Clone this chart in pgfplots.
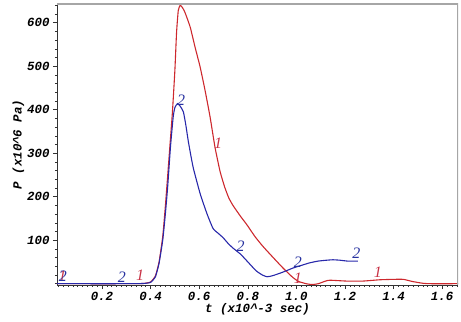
\documentclass[border=0pt]{standalone}
\usepackage{pgfplots}
\pgfplotsset{compat=1.18}
\usepackage{fontspec}
\setmainfont{Liberation Sans}
\newfontfamily\tickfont{Liberation Mono}[BoldItalicFont={* Bold Italic}]
\newfontfamily\labfont{Liberation Serif}
\definecolor{cred}{RGB}{205,40,45}
\definecolor{cblue}{RGB}{40,40,170}
\definecolor{lred}{RGB}{200,50,70}
\definecolor{lblue}{RGB}{40,50,160}
\begin{document}
\begin{tikzpicture}
\begin{axis}[
  scale only axis, width=401bp, height=281bp,
  xmin=0.015, xmax=1.665, ymin=-3, ymax=643,
  axis x line*=bottom, axis y line*=left,
  axis line style={black!80, line width=0.6pt, -},
  xtick={0.2,0.4,...,1.6},
  ytick={100,200,...,600},
  minor xtick={0.02,0.04,...,1.66},
  minor ytick={0,20,...,640},
  tick align=outside,
  major tick length=4bp, minor tick length=2bp,
  tick style={black!80, line width=0.5pt},
  /pgf/number format/assume math mode=true,
  xticklabel style={/pgf/number format/fixed, /pgf/number format/precision=1, /pgf/number format/fixed zerofill},
  yticklabel style={/pgf/number format/fixed},
  ticklabel style={font=\tickfont\bfseries\itshape\fontsize{12.5}{12.5}\selectfont},
  xlabel={t (x10\textasciicircum-3 sec)},
  ylabel={P (x10\textasciicircum6 Pa)},
  label style={font=\tickfont\bfseries\itshape\fontsize{12.5}{12.5}\selectfont},
  xlabel style={yshift=4bp},
  ylabel style={yshift=-4bp},
  xtick pos=bottom, ytick pos=left,
  clip=true,
]
\addplot[cred, line width=1.1pt, smooth, tension=0.3] coordinates {
(0.015,0) (0.30,0) (0.37,0.5) (0.40,4) (0.42,18) (0.435,50) (0.45,108) (0.46,172) (0.47,245) (0.48,320) (0.49,395) (0.50,490) (0.507,578) (0.514,628) (0.522,640) (0.532,634) (0.542,623) (0.563,590) (0.583,544) (0.604,498) (0.624,445) (0.645,383) (0.665,314) (0.686,258) (0.705,222) (0.722,197) (0.739,180) (0.77,155) (0.797,135) (0.83,108) (0.862,86) (0.903,61) (0.945,36) (0.986,14) (1.01,5) (1.04,0) (1.064,-2) (1.09,0) (1.12,6) (1.138,8) (1.207,6) (1.273,6) (1.343,9) (1.40,10) (1.44,10) (1.478,5) (1.52,1) (1.55,0) (1.665,0)
};
\addplot[cblue, line width=1.1pt, smooth, tension=0.3] coordinates {
(0.015,0) (0.30,0) (0.37,0.5) (0.40,3) (0.42,16) (0.435,47) (0.45,100) (0.46,155) (0.47,220) (0.482,315) (0.493,383) (0.50,405) (0.511,414) (0.522,408) (0.535,395) (0.545,365) (0.556,325) (0.575,268) (0.604,207) (0.632,161) (0.657,127) (0.68,115) (0.698,106) (0.72,92) (0.739,82) (0.77,68) (0.797,52) (0.82,38) (0.838,28) (0.86,20) (0.879,16) (0.90,18) (0.932,24) (0.96,30) (0.986,36) (1.02,42) (1.055,48) (1.09,52) (1.125,54) (1.15,55) (1.179,54) (1.21,52) (1.253,52)
};
\begin{scope}[every node/.style={font=\labfont\itshape\fontsize{16}{16}\selectfont, inner sep=0pt}]
\node[lred] at (axis cs:0.037,17) {1};
\node[lblue] at (axis cs:0.039,17) {2};
\node[lblue] at (axis cs:0.282,16) {2};
\node[lred] at (axis cs:0.357,20) {1};
\node[lblue] at (axis cs:0.526,422) {2};
\node[lred] at (axis cs:0.678,323) {1};
\node[lblue] at (axis cs:0.771,85) {2};
\node[lblue] at (axis cs:1.006,49) {2};
\node[lred] at (axis cs:1.006,13) {1};
\node[lblue] at (axis cs:1.247,70) {2};
\node[lred] at (axis cs:1.335,26) {1};
\end{scope}
\draw[black!35, line width=1.3pt] (rel axis cs:0,1) -- (rel axis cs:1,1) -- (rel axis cs:1,0);
\coordinate (bl) at (rel axis cs:0,0);
\coordinate (tr) at (rel axis cs:1,1);
\end{axis}
\pgfresetboundingbox
\path ([shift={(-57bp,-37bp)}]bl) rectangle ([shift={(3bp,4bp)}]tr);
\end{tikzpicture}
\end{document}
